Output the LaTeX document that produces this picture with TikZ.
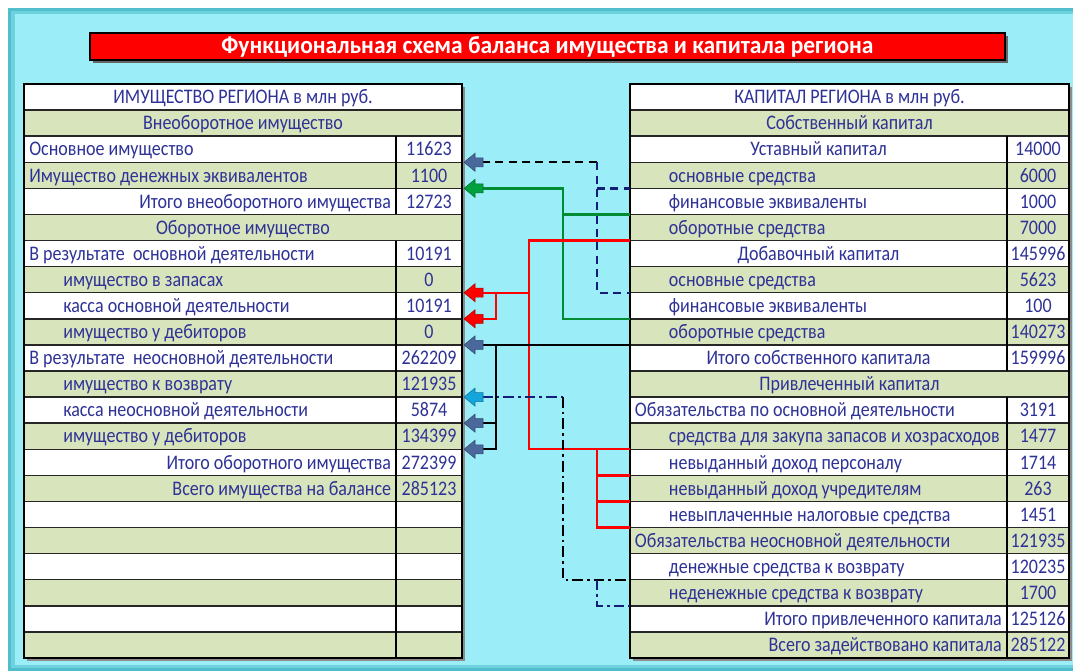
\documentclass[tikz,border=0pt]{standalone}
\usepackage{fontspec}
\setmainfont{Carlito}
\usepackage{graphicx}
\definecolor{bgcyan}{RGB}{155,238,248}
\definecolor{bgedge}{RGB}{80,190,205}
\definecolor{rowg}{RGB}{216,228,188}
\definecolor{txt}{RGB}{46,50,150}
\definecolor{titred}{RGB}{255,0,0}
\definecolor{steel}{RGB}{74,104,156}
\definecolor{agreen}{RGB}{0,160,60}
\definecolor{lgreen}{RGB}{0,140,50}
\definecolor{acyan}{RGB}{20,165,220}
\definecolor{navy}{RGB}{20,30,120}
\newcommand{\st}[1]{\scalebox{1}[1.15]{#1}}
\tikzset{
  cell/.style={font=\fontsize{13.5}{15}\selectfont, text=txt, inner sep=0pt},
  Lm/.style={cell, anchor=base, xshift=182.25pt},
  Ll/.style={cell, anchor=base west, xshift=21.75pt},
  Li/.style={cell, anchor=base west, xshift=47.25pt},
  Lr/.style={cell, anchor=base east, xshift=293.5pt},
  Lv/.style={cell, anchor=base, xshift=321.75pt},
  Rm/.style={cell, anchor=base, xshift=637.1pt},
  Rl/.style={cell, anchor=base west, xshift=476pt},
  Rc/.style={cell, anchor=base, xshift=613.9pt},
  Ri/.style={cell, anchor=base west, xshift=501.5pt},
  Rr/.style={cell, anchor=base east, xshift=751.5pt},
  Rv/.style={cell, anchor=base, xshift=778.5pt},
  rowline/.style={draw=black!85, line width=1.1pt},
  frame/.style={draw=black, line width=2.2pt},
  divider/.style={draw=black, line width=1.2pt},
  conn/.style={line width=1.8pt},
  dsh/.style={conn, dash pattern=on 6pt off 4pt},
  dshdot/.style={conn, dash pattern=on 8pt off 3pt on 2pt off 3pt},
  pics/barrow/.style={code={
    \fill[#1] (0,0) -- (11,-9) -- (11,-4.5) -- (19,-4.5) -- (19,4.5) -- (11,4.5) -- (11,9) -- cycle;
    \draw[#1!70!black, line width=0.4pt] (0,0) -- (11,-9) -- (11,-4.5) -- (19,-4.5) -- (19,4.5) -- (11,4.5) -- (11,9) -- cycle;
  }}
}
\begin{document}
\begin{tikzpicture}[x=0.75pt,y=-0.75pt]
\useasboundingbox (0,0) rectangle (1073,671);
% background
\fill[white] (0,0) rectangle (1073,671);
\fill[bgedge] (8,8) rectangle (1073,671);
\fill[bgedge!60!bgcyan] (11,11) rectangle (1073,668);
\fill[bgcyan] (15,14) rectangle (1073,665);
% title
\fill[black!60] (93,36) rectangle (1008,63);
\node[draw=black, line width=1.5pt, fill=titred, minimum width=915*0.75pt, minimum height=27*0.75pt, inner sep=0pt,
      text=white, font=\bfseries\fontsize{17.6}{19}\selectfont] (title) at (547.5,46.5)
      {\scalebox{1}[1.05]{Функциональная схема баланса имущества и капитала региона}};
% ===== left table =====
\fill[black!45] (27,87) rectangle (465,661);
\fill[white] (24,84) rectangle (462,658);
\foreach \k in {1,3,...,21} \fill[rowg] (24,{84+26.09*\k}) rectangle (462,{84+26.09*(\k+1)});
\foreach \k in {1,...,21} \draw[rowline] (24,{84+26.09*\k}) -- (462,{84+26.09*\k});
\draw[divider] (396,{84+26.09*2}) -- (396,{84+26.09*5});
\draw[divider] (396,{84+26.09*6}) -- (396,658);
\draw[frame] (24,84) rectangle (462,658);
% ===== right table =====
\fill[black!45] (633,87) rectangle (1072,661);
\fill[white] (630,84) rectangle (1069,658);
\foreach \k in {1,3,...,21} \fill[rowg] (630,{84+26.09*\k}) rectangle (1069,{84+26.09*(\k+1)});
\foreach \k in {1,...,21} \draw[rowline] (630,{84+26.09*\k}) -- (1069,{84+26.09*\k});
\draw[divider] (1007,{84+26.09*2}) -- (1007,{84+26.09*11});
\draw[divider] (1007,{84+26.09*12}) -- (1007,658);
\draw[frame] (630,84) rectangle (1069,658);
% ===== left labels =====
\foreach \k/\m/\t in {
  0/Lm/{ИМУЩЕСТВО РЕГИОНА в млн руб.},
  1/Lm/{Внеоборотное имущество},
  2/Ll/{Основное имущество},
  3/Ll/{Имущество денежных эквивалентов},
  4/Lr/{Итого внеоборотного имущества},
  5/Lm/{Оборотное имущество},
  6/Ll/{В результате\ \ основной деятельности},
  7/Li/{имущество в запасах},
  8/Li/{касса основной деятельности},
  9/Li/{имущество у дебиторов},
  10/Ll/{В результате\ \ неосновной деятельности},
  11/Li/{имущество к возврату},
  12/Li/{касса неосновной деятельности},
  13/Li/{имущество у дебиторов},
  14/Lr/{Итого оборотного имущества},
  15/Lr/{Всего имущества на балансе}}
  \node[\m] (lt\k) at (0,{84+26.09*(\k+0.5)+6.7}) {\st{\t}};
\foreach \k/\v in {2/11623,3/1100,4/12723,6/10191,7/0,8/10191,9/0,10/262209,
  11/121935,12/5874,13/134399,14/272399,15/285123}
  \node[Lv] (lv\k) at (0,{84+26.09*(\k+0.5)+6.7}) {\st{\v}};
% ===== right labels =====
\foreach \k/\m/\t in {
  0/Rm/{КАПИТАЛ РЕГИОНА в млн руб.},
  1/Rm/{Собственный капитал},
  2/Rc/{Уставный капитал},
  3/Ri/{основные средства},
  4/Ri/{финансовые эквиваленты},
  5/Ri/{оборотные средства},
  6/Rc/{Добавочный капитал},
  7/Ri/{основные средства},
  8/Ri/{финансовые эквиваленты},
  9/Ri/{оборотные средства},
  10/Rc/{Итого собственного капитала},
  11/Rm/{Привлеченный капитал},
  12/Rl/{Обязательства по основной деятельности},
  13/Ri/{средства для закупа запасов и хозрасходов},
  14/Ri/{невыданный доход персоналу},
  15/Ri/{невыданный доход учредителям},
  16/Ri/{невыплаченные налоговые средства},
  17/Rl/{Обязательства неосновной деятельности},
  18/Ri/{денежные средства к возврату},
  19/Ri/{неденежные средства к возврату},
  20/Rr/{Итого привлеченного капитала},
  21/Rr/{Всего задействовано капитала}}
  \node[\m] (rt\k) at (0,{84+26.09*(\k+0.5)+6.7}) {\st{\t}};
\foreach \k/\v in {2/14000,3/6000,4/1000,5/7000,6/145996,7/5623,8/100,9/140273,
  10/159996,12/3191,13/1477,14/1714,15/263,16/1451,17/121935,18/120235,
  19/1700,20/125126,21/285122}
  \node[Rv] (rv\k) at (0,{84+26.09*(\k+0.5)+6.7}) {\st{\v}};
% ===== ports =====
\foreach \k in {3,4,8,9,10,12,13,14} {
  \coordinate (A\k) at (464,{84+26.09*\k});
  \coordinate (T\k) at (482,{84+26.09*\k});
}
\foreach \k in {4,5,6,8,9,10,14,15,16,17,19,20}
  \coordinate (R\k) at (630,{84+26.09*\k});
\coordinate (bx) at (496,0);
\coordinate (rx) at (529,0);
\coordinate (gx) at (563,0);
\coordinate (nx) at (597,0);
% ===== connectors =====
% dashed (основные средства)
\draw[dsh, black] (T3) -- (T3 -| nx);
\draw[dsh, navy] (T3 -| nx) |- (R8);
\draw[dsh, navy] (nx |- R4) -- (R4);
% green (финансовые эквиваленты)
\draw[conn, lgreen] (T4) -| (gx |- R9) -- (R9);
\draw[conn, lgreen] (gx |- R5) -- (R5);
% red (оборотные средства, обязательства по основной деятельности)
\draw[conn, red] (R6) -| (rx |- R14) -- (R14);
\draw[conn, red] (T8) -- (T8 -| rx);
\draw[conn, red] (T9) -| (bx |- T8);
\draw[conn, red] (nx |- R14) |- (R17);
\draw[conn, red] (nx |- R15) -- (R15);
\draw[conn, red] (nx |- R16) -- (R16);
% black solid
\draw[conn, black] (R10) -- (T10);
\draw[conn, black] (bx |- T10) |- (T14);
\draw[conn, black] (T13) -- (T13 -| bx);
% dash-dot
\draw[dshdot, navy] (T12) -- (T12 -| gx);
\draw[dshdot, black] (T12 -| gx) |- (R19);
\draw[dshdot, navy] (nx |- R19) |- (R20);
% ===== arrow heads =====
\pic at (A3) {barrow=steel};
\pic at (A4) {barrow=agreen};
\pic at (A8) {barrow=red};
\pic at (A9) {barrow=red};
\pic at (A10) {barrow=steel};
\pic at (A12) {barrow=acyan};
\pic at (A13) {barrow=steel};
\pic at (A14) {barrow=steel};
\end{tikzpicture}
\end{document}
